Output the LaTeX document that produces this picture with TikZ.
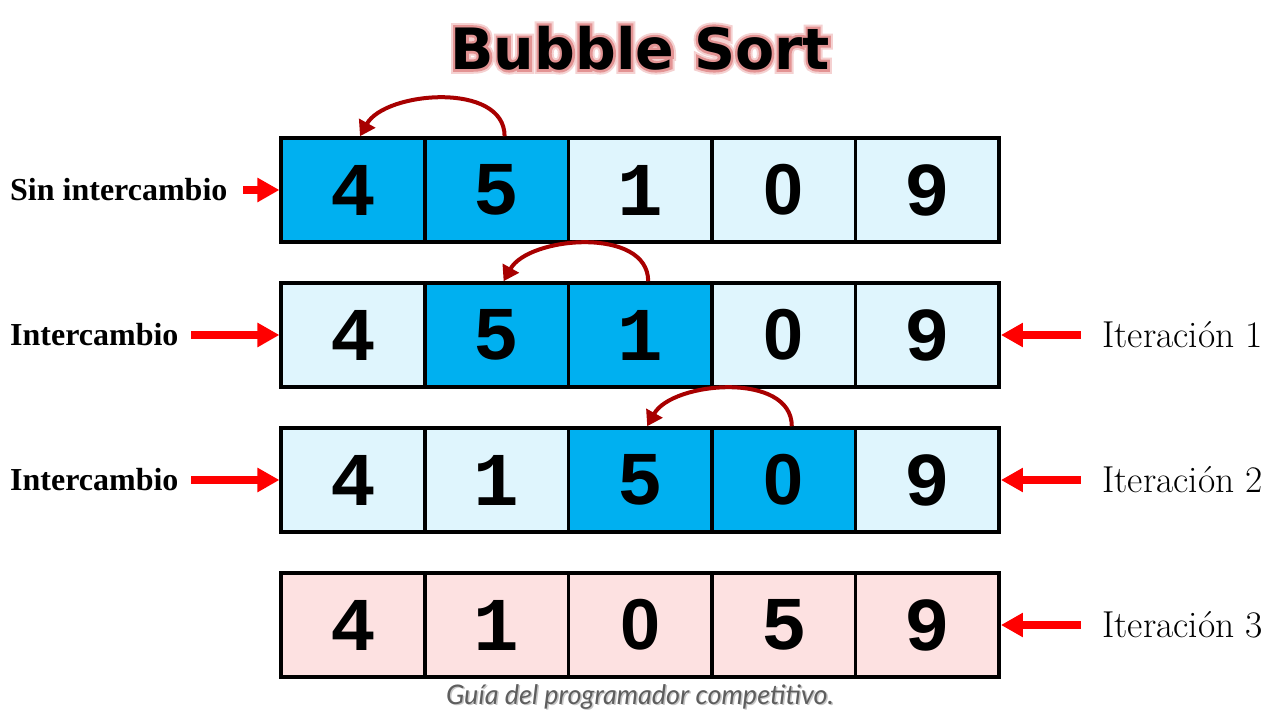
\documentclass[tikz,border=0pt]{standalone}
\usepackage{fontspec}
\usepackage{tikz}
\usetikzlibrary{positioning,arrows.meta}
\usepackage{xcolor}
\newfontfamily\titlefont{DejaVu Sans}
\newfontfamily\digitfont{Liberation Mono}
\newfontfamily\zerofont{Liberation Sans}
\newfontfamily\tagfont{Liberation Serif}
\newfontfamily\notefont{Lato}
\newcommand\zero{{\zerofont\fontsize{72}{72}\selectfont 0}}
\newcommand\glowtext[1]{\rlap{\special{pdf:literal direct q 1 Tr 9 w 0.96 0.82 0.82 RG}#1\special{pdf:literal direct Q}}\special{pdf:literal direct q 1 Tr 5 w 0.89 0.58 0.58 RG}#1\special{pdf:literal direct Q}}
\definecolor{hot}{HTML}{00B0F0}
\definecolor{cold}{HTML}{DFF5FD}
\definecolor{done}{HTML}{FDE1E1}
\definecolor{swapred}{HTML}{A80000}
\definecolor{notegray}{HTML}{5E5E5E}
\tikzset{
	cell/.style={draw=black, line width=3.5pt, minimum width=143.6pt, minimum height=104pt, inner sep=0pt, font=\digitfont\bfseries\fontsize{76}{76}\selectfont},
	pointer/.style={red, line width=8pt, -{Triangle[length=22pt,width=23pt]}},
	swaparc/.style={swapred, line width=4pt, -{Triangle[length=15pt,width=18pt]}},
	lefttag/.style={anchor=west, inner sep=0pt, font=\tagfont\bfseries\fontsize{32}{32}\selectfont},
	righttag/.style={anchor=west, inner sep=0pt, font=\fontsize{37.5}{37.5}\selectfont},
	titletext/.style={inner sep=0pt, font=\titlefont\bfseries\fontsize{57}{57}\selectfont},
	notetext/.style={font=\notefont\itshape\fontsize{27}{27}\selectfont}
}
\begin{document}
\begin{tikzpicture} [x=1pt, y=1pt]
	\useasboundingbox (0, 0) rectangle (1280, 720);
	\fill [white] (0, 0) rectangle (1280, 720);
	\node [titletext, text=black] (title) at (640, 672) {\glowtext{Bubble Sort}};
	\node [titletext, text=black] at (title.center) {Bubble Sort};
	\foreach \v/\f [count=\i] in {4/hot, 5/hot, 1/cold, \zero/cold, 9/cold}
		\node [cell, fill=\f] (a\i) at ({209.4+143.6*\i}, 530) {\v};
	\foreach \v/\f [count=\i] in {4/cold, 5/hot, 1/hot, \zero/cold, 9/cold}
		\node [cell, fill=\f] (b\i) at ({209.4+143.6*\i}, 385) {\v};
	\foreach \v/\f [count=\i] in {4/cold, 1/cold, 5/hot, \zero/hot, 9/cold}
		\node [cell, fill=\f] (c\i) at ({209.4+143.6*\i}, 240) {\v};
	\foreach \v [count=\i] in {4, 1, \zero, 5, 9}
		\node [cell, fill=done] (d\i) at ({209.4+143.6*\i}, 95) {\v};
	\draw [swaparc] ([xshift=8pt] a2.north) .. controls +(0, 55) and +(25, 45) .. ([xshift=7pt] a1.north);
	\draw [swaparc] ([xshift=8pt] b3.north) .. controls +(0, 55) and +(25, 45) .. ([xshift=7pt] b2.north);
	\draw [swaparc] ([xshift=8pt] c4.north) .. controls +(0, 55) and +(25, 45) .. ([xshift=7pt] c3.north);
	\node [lefttag] (sin) at (10, 530) {Sin intercambio};
	\node [lefttag] (inter1) at (10, 385) {Intercambio};
	\node [lefttag] (inter2) at (10, 240) {Intercambio};
	\draw [pointer] ([xshift=-36pt] a1.west) -- (a1.west);
	\draw [pointer] ([xshift=-88pt] b1.west) -- (b1.west);
	\draw [pointer] ([xshift=-88pt] c1.west) -- (c1.west);
	\node [righttag] (iter1) at (1102, 385) {Iteración 1};
	\node [righttag] (iter2) at (1102, 240) {Iteración 2};
	\node [righttag] (iter3) at (1102, 95) {Iteración 3};
	\draw [pointer] ([xshift=80pt] b5.east) -- (b5.east);
	\draw [pointer] ([xshift=80pt] c5.east) -- (c5.east);
	\draw [pointer] ([xshift=80pt] d5.east) -- (d5.east);
	\node [notetext, text=notegray, text opacity=0.35] at (641.5, 21.5) {Guía del programador competitivo.};
	\node [notetext, text=notegray] (note) at (640, 23) {Guía del programador competitivo.};
\end{tikzpicture}
\end{document}
